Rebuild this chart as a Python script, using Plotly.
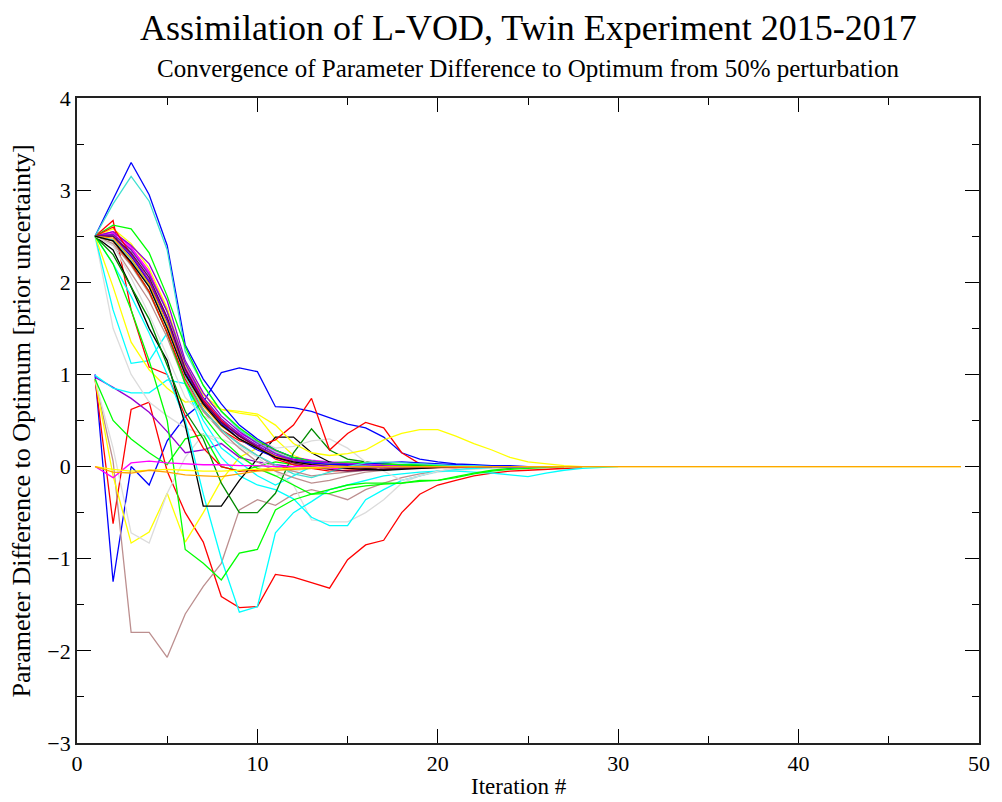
import plotly.graph_objects as go

# ---- colours (Grace default palette) ----
BLACK = "#000000"; RED = "#ff0000"; GREEN = "#00ff00"; BLUE = "#0000ff"
YELLOW = "#ffff00"; BROWN = "#bc8f8f"; GREY = "#dcdcdc"; VIOLET = "#9400d3"
CYAN = "#00ffff"; MAGENTA = "#ff00ff"; ORANGE = "#ffa500"; INDIGO = "#7221bc"
MAROON = "#670748"; TURQ = "#40e0d0"; DKGREEN = "#008b00"

# ---- series values (iteration 1, 2, 3, ...) ----
s_blue3 = [1.0, -1.25, 0.0, -0.2, 0.28, 0.54, 0.7, 1.02, 1.07, 1.03, 0.65, 0.64, 0.6, 0.53, 0.46, 0.42, 0.32, 0.15, 0.08, 0.05, 0.03, 0.02, 0.01, 0.01, 0.0, 0.0]
s_red4 = [0.95, -0.62, 0.62, 0.7, -0.05, -0.5, -0.82, -1.41, -1.53, -1.52, -1.17, -1.2, -1.26, -1.32, -1.01, -0.85, -0.8, -0.5, -0.3, -0.2, -0.15, -0.1, -0.07, -0.05, -0.04, -0.03, -0.02, -0.01]
s_brown3 = [0.95, 0.06, -1.8, -1.8, -2.07, -1.6, -1.3, -1.05, -0.47, -0.36, -0.42, -0.3, -0.25, -0.3, -0.36, -0.25, -0.18, -0.12, -0.08, -0.05, -0.03, -0.02, -0.01, 0.0]
s_yellow3 = [0.95, -0.1, -0.83, -0.71, -0.29, -0.82, -0.5, -0.15, 0.1, 0.2, 0.15, 0.08, 0.05, 0.02, 0.0, 0.0]
s_grey3 = [0.95, 0.2, -0.72, -0.83, -0.29, 0.1, 0.35, 0.25, 0.1, 0.0, -0.1, -0.05, -0.02, 0.0, 0.0]
s_violet3 = [0.97, 0.86, 0.74, 0.59, 0.38, 0.15, 0.18, 0.25, 0.1, 0.05, 0.02, 0.0, 0.0]
s_cyan4 = [0.99, 0.85, 0.8, 0.8, 0.94, 0.9, 0.5, 0.2, 0.05, -0.1, -0.2, -0.1, 0.0, 0.05, 0.02, 0.0]
s_green4 = [0.95, 0.5, 0.3, 0.15, 0.02, 0.3, 0.35, 0.0, -0.05, 0.0, 0.05, 0.02, 0.0]

s_black1 = [2.5, 2.45, 2.22, 1.95, 1.5, 1.0, 0.68, 0.45, 0.3, 0.2, 0.1, 0.05, 0.02, 0.0, -0.02, -0.03, -0.04, -0.03, -0.02, -0.01, 0.0, 0.0, 0.0]
s_red1 = [2.5, 2.6, 2.3, 2.0, 1.6, 1.05, 0.72, 0.5, 0.33, 0.22, 0.08, 0.02, -0.02, -0.05, -0.04, -0.03, -0.03, -0.02, -0.02, -0.01, -0.01, 0.0, 0.0, 0.0, 0.0, 0.0, 0.0]
s_green1 = [2.5, 2.62, 2.58, 2.32, 1.85, 1.3, 0.88, 0.6, 0.42, 0.28, 0.18, 0.1, 0.06, 0.04, 0.05, 0.04, 0.03, 0.02, 0.02, 0.01, 0.01, 0.0, 0.0, 0.0]
s_blue1 = [2.5, 2.9, 3.3, 2.95, 2.4, 1.32, 0.95, 0.68, 0.45, 0.3, 0.18, 0.1, 0.06, 0.04, 0.02, 0.01, 0.0, 0.0, 0.0, 0.0]
s_yellow1 = [2.5, 2.58, 2.42, 2.15, 1.72, 1.1, 0.78, 0.62, 0.6, 0.57, 0.45, 0.25, 0.15, 0.12, 0.14, 0.18, 0.29, 0.36, 0.4, 0.4, 0.33, 0.25, 0.18, 0.1, 0.05, 0.03, 0.01, 0.0]
s_brown1 = [2.5, 2.4, 2.1, 1.8, 1.4, 0.9, 0.6, 0.4, 0.25, 0.12, 0.0, -0.05, -0.1, -0.08, -0.06, -0.04, -0.03, -0.02, -0.01, 0.0, 0.0, 0.0, 0.0, 0.0, 0.0, 0.0, 0.0]
s_grey1 = [2.5, 1.5, 1.0, 0.7, 0.55, 0.42, 0.35, 0.3, 0.22, 0.1, -0.05, -0.2, -0.58, -0.6, -0.6, -0.5, -0.36, -0.18, -0.1, -0.06, -0.04, -0.03, -0.02, -0.02, -0.01, -0.01, 0.0, 0.0]
s_violet1 = [2.5, 2.55, 2.4, 2.2, 1.8, 1.15, 0.8, 0.55, 0.38, 0.25, 0.14, 0.07, 0.04, 0.02, 0.01, 0.0, 0.0, 0.0]
s_cyan1 = [2.5, 2.85, 3.15, 2.88, 2.35, 1.25, 0.88, 0.6, 0.4, 0.26, 0.15, 0.08, 0.05, 0.03, 0.02, 0.01, 0.0, 0.0]
s_magenta1 = [2.5, 2.55, 2.38, 2.12, 1.68, 1.08, 0.72, 0.5, 0.36, 0.27, 0.17, 0.1, 0.07, 0.05, 0.04, 0.03, 0.02, 0.01, 0.0, 0.0]
s_orange1 = [2.5, 2.48, 2.26, 1.98, 1.55, 1.0, 0.66, 0.44, 0.3, 0.2, 0.11, 0.05, 0.02, 0.01, 0.0, 0.0, 0.0]
s_indigo1 = [2.5, 2.52, 2.35, 2.08, 1.68, 1.12, 0.75, 0.52, 0.35, 0.23, 0.12, 0.06, 0.03, 0.01, 0.0, -0.01, -0.01, 0.0, 0.0]
s_maroon1 = [2.5, 2.5, 2.32, 2.05, 1.62, 1.06, 0.7, 0.48, 0.33, 0.21, 0.1, 0.04, 0.0, -0.03, -0.05, -0.04, -0.03, -0.02, -0.01, 0.0, 0.0]
s_turq1 = [2.5, 2.46, 2.25, 1.96, 1.52, 0.98, 0.62, 0.4, 0.24, 0.12, 0.02, -0.08, -0.12, -0.06, 0.0, 0.04, 0.05, 0.04, 0.03, 0.02, 0.01, 0.01, 0.0, 0.0, 0.0, 0.0, 0.0, 0.0, 0.0]
s_dkgreen1 = [2.5, 2.3, 1.95, 1.6, 1.1, 0.6, 0.3, -0.18, -0.5, -0.5, -0.29, 0.15, 0.41, 0.18, 0.08, 0.05, 0.03, 0.02, 0.01, 0.0, 0.0]
s_black2 = [2.5, 2.35, 1.95, 1.5, 1.15, 0.45, -0.43, -0.43, -0.15, 0.08, 0.32, 0.32, 0.15, 0.05, 0.0, -0.02, -0.03, -0.02, -0.01, 0.0, 0.0, 0.0, 0.0]
s_red2 = [2.5, 2.45, 2.2, 1.9, 1.45, 0.95, 0.62, 0.4, 0.28, 0.22, 0.29, 0.45, 0.74, 0.18, 0.36, 0.48, 0.42, 0.15, 0.03, 0.0, 0.0, 0.0]
s_green2 = [2.5, 2.2, 1.7, 1.15, 0.5, -0.9, -1.05, -1.23, -0.94, -0.9, -0.47, -0.36, -0.3, -0.29, -0.24, -0.21, -0.19, -0.18, -0.16, -0.15, -0.11, -0.07, -0.04, -0.02, -0.01, 0.0]
s_blue2 = [2.5, 2.5, 2.28, 2.0, 1.58, 1.02, 0.7, 0.47, 0.3, 0.18, 0.1, 0.05, 0.04, 0.02, 0.02, 0.03, 0.04, 0.05, 0.04, 0.03, 0.02, 0.01, 0.0, -0.01, 0.0, 0.0]
s_yellow2 = [2.5, 1.95, 1.35, 1.05, 0.85, 0.7, 0.72, 0.62, 0.58, 0.55, 0.3, 0.12, 0.05, 0.02, 0.0, 0.0]
s_brown2 = [2.5, 2.42, 2.18, 1.88, 1.45, 0.92, 0.6, 0.38, 0.2, 0.05, -0.05, -0.12, -0.18, -0.15, -0.1, -0.06, -0.04, -0.02, -0.01, 0.0, 0.0]
s_grey2 = [2.5, 2.4, 2.05, 1.65, 1.2, 0.75, 0.55, 0.45, 0.4, 0.3, 0.2, 0.22, 0.28, 0.3, 0.2, 0.05, -0.05, -0.15, -0.1, -0.05, -0.02, 0.0]
s_violet2 = [2.5, 2.5, 2.3, 2.02, 1.6, 1.05, 0.7, 0.48, 0.34, 0.22, 0.12, 0.08, 0.05, 0.04, 0.03, 0.02, 0.01, 0.0]
s_cyan2 = [2.5, 2.2, 1.85, 1.45, 1.0, 0.5, -0.3, -1.0, -1.58, -1.52, -0.72, -0.5, -0.38, -0.25, -0.2, -0.15, -0.1, -0.08, -0.06, -0.05, -0.05, -0.06, -0.07, -0.09, -0.11, -0.07, -0.04, -0.02, -0.01, 0.0]
s_magenta2 = [2.5, 2.53, 2.36, 2.1, 1.7, 1.1, 0.73, 0.5, 0.33, 0.2, 0.1, 0.04, 0.0, -0.02, -0.02, -0.01, 0.0, 0.0]
s_red3 = [2.5, 2.67, 1.7, 1.08, 1.0, 0.55, 0.2, 0.0, -0.05, -0.04, -0.02, 0.0, 0.02, 0.01, 0.0]
s_green3 = [2.5, 2.45, 2.2, 1.9, 1.45, 0.9, 0.55, 0.3, 0.12, -0.02, -0.1, -0.2, -0.3, -0.25, -0.2, -0.18, -0.18, -0.18, -0.15, -0.15, -0.12, -0.08, -0.05, -0.03, -0.02, -0.01, 0.0]
s_cyan3 = [2.5, 1.7, 1.12, 1.15, 1.45, 0.9, 0.4, 0.1, -0.1, -0.2, -0.25, -0.35, -0.55, -0.64, -0.64, -0.36, -0.25, -0.15, -0.1, -0.05, -0.03, -0.02, -0.01, 0.0]

s_magenta3 = [0.0, -0.12, 0.04, 0.06, 0.04, 0.03, 0.02, 0.02, 0.01, 0.01, 0.0, 0.0, 0.01, 0.0, 0.0, 0.0, 0.0, 0.0, 0.0, 0.0, 0.0, 0.0, 0.0, 0.0, 0.0]
s_yellow4 = [0.0, -0.03, -0.05, -0.04, -0.03, -0.04, -0.05, -0.05, -0.04, -0.03, -0.02, -0.02, -0.01, -0.01, 0.0, 0.0, 0.0, 0.0, 0.0, 0.0, 0.0, 0.0, 0.0, 0.0, 0.0, 0.0, 0.0, 0.0, 0.0, 0.0, 0.0, 0.0, 0.0, 0.0, 0.0, 0.0, 0.0, 0.0, 0.0, 0.0, 0.0, 0.0, 0.0, 0.0, 0.0, 0.0, 0.0, 0.0, 0.0]
s_orange2 = [0.0, -0.06, -0.07, -0.04, -0.06, -0.09, -0.1, -0.11, -0.08, -0.05, -0.04, -0.03, -0.02, -0.01, 0.0, 0.0, 0.0, 0.0, 0.0, 0.0, 0.0, 0.0, 0.0, 0.0, 0.0, 0.0, 0.0, 0.0, 0.0, 0.0, 0.0, 0.0, 0.0, 0.0, 0.0, 0.0, 0.0, 0.0, 0.0, 0.0, 0.0, 0.0, 0.0, 0.0, 0.0, 0.0, 0.0, 0.0, 0.0]

series = [
    (s_blue3, BLUE), (s_red4, RED), (s_brown3, BROWN), (s_yellow3, YELLOW),
    (s_grey3, GREY), (s_violet3, VIOLET), (s_cyan4, CYAN), (s_green4, GREEN),
    (s_grey1, GREY), (s_cyan3, CYAN), (s_yellow2, YELLOW), (s_red3, RED),
    (s_cyan2, CYAN), (s_green2, GREEN), (s_magenta1, MAGENTA), (s_magenta2, MAGENTA),
    (s_black2, BLACK), (s_dkgreen1, DKGREEN),
    (s_brown1, BROWN), (s_brown2, BROWN), (s_grey2, GREY), (s_green3, GREEN),
    (s_red2, RED), (s_yellow1, YELLOW), (s_blue1, BLUE), (s_cyan1, TURQ),
    (s_green1, GREEN), (s_violet1, VIOLET), (s_indigo1, INDIGO),
    (s_red1, RED), (s_blue2, BLUE), (s_violet2, VIOLET),
    (s_turq1, TURQ), (s_maroon1, MAROON), (s_orange1, ORANGE), (s_black1, BLACK),
    (s_magenta3, MAGENTA), (s_yellow4, YELLOW), (s_orange2, ORANGE),
]

fig = go.Figure()
for vals, col in series:
    fig.add_trace(go.Scatter(
        x=list(range(1, len(vals) + 1)), y=vals, mode="lines",
        line=dict(color=col, width=1.3), showlegend=False, hoverinfo="skip"))

FONT = "Liberation Serif"
axis_common = dict(
    showgrid=False, zeroline=False, showline=True, linecolor="#222222",
    linewidth=1.8, mirror="allticks", ticks="inside", ticklen=14,
    tickwidth=1.2, tickcolor="black",
    tickfont=dict(family=FONT, size=22, color="black"),
)
fig.update_xaxes(range=[0, 50], tick0=0, dtick=10,
                 minor=dict(dtick=5, ticklen=7, ticks="inside", tickcolor="black", tickwidth=1.2),
                 **axis_common)
fig.update_yaxes(range=[-3, 4], tick0=0, dtick=1,
                 minor=dict(dtick=0.5, ticklen=7, ticks="inside", tickcolor="black", tickwidth=1.2),
                 **axis_common)

# page body has an 8px margin, so the figure is sized/offset to put the frame at
# x 77..988, y 98..743 in the window
fig.update_layout(
    width=994, height=794,
    margin=dict(l=69, r=14, t=90, b=59),
    plot_bgcolor="white", paper_bgcolor="white",
    font=dict(family=FONT, color="black"),
    annotations=[
        dict(text="Assimilation of L-VOD, Twin Experiment 2015-2017", xref="paper", yref="paper",
             x=0.5, y=1.108, xanchor="center", yanchor="middle", showarrow=False,
             font=dict(family=FONT, size=36, color="black")),
        dict(text="Convergence of Parameter Difference to Optimum from 50% perturbation",
             xref="paper", yref="paper", x=0.5, y=1.046, xanchor="center", yanchor="middle",
             showarrow=False, font=dict(family=FONT, size=25, color="black")),
        dict(text="Iteration #", xref="paper", yref="paper", x=0.49, y=-0.068,
             xanchor="center", yanchor="middle", showarrow=False,
             font=dict(family=FONT, size=23, color="black")),
        dict(text="Parameter Difference to Optimum [prior uncertainty]", xref="paper", yref="paper",
             x=-0.061, y=0.5, xanchor="center", yanchor="middle", textangle=-90, showarrow=False,
             font=dict(family=FONT, size=26, color="black")),
    ],
)

fig.write_html("out.html")
